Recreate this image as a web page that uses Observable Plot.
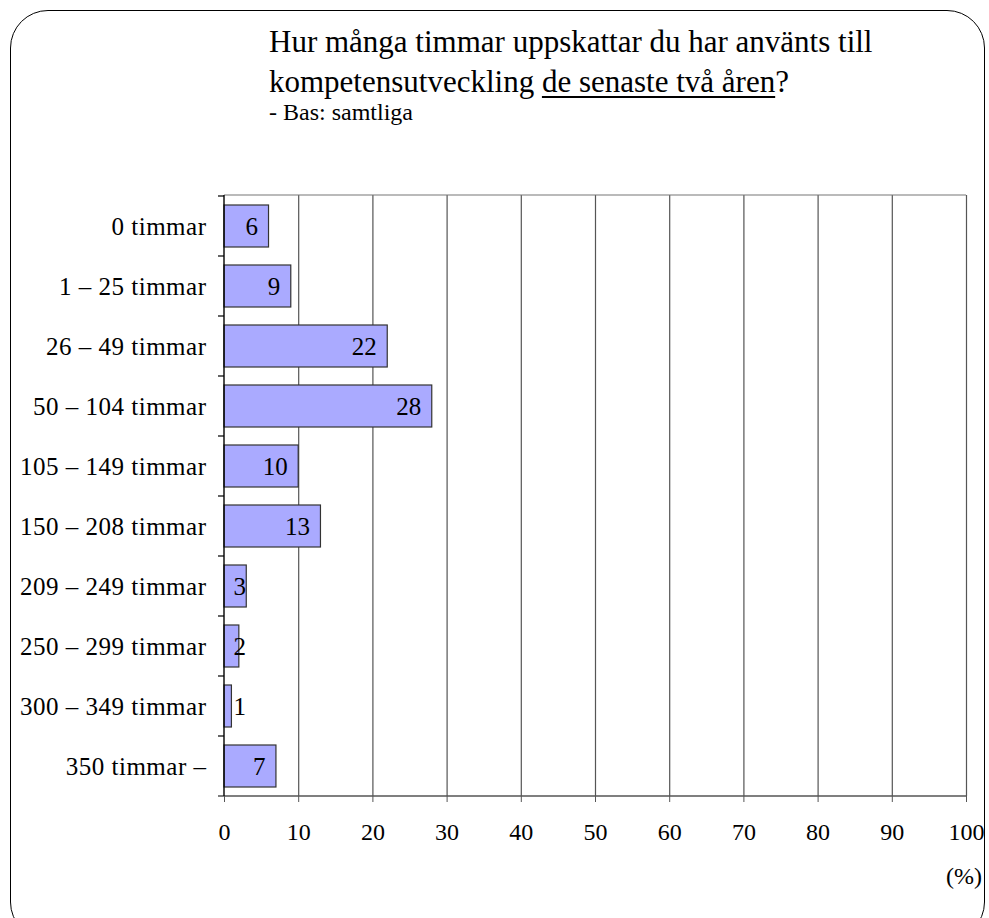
<!DOCTYPE html>
<html>
<head>
<meta charset="utf-8">
<script src="https://cdn.jsdelivr.net/npm/d3@7"></script>
<script src="https://cdn.jsdelivr.net/npm/@observablehq/plot@0.6"></script>
<style>
  html, body { margin: 0; padding: 0; background: #fff; }
  #wrap { position: relative; width: 989px; height: 918px; overflow: hidden; font-family: "Liberation Serif", "Times New Roman", serif; color: #000; }
  #border { position: absolute; left: 10px; top: 10px; width: 975px; height: 930px; border: 1.2px solid #000; border-radius: 38px; box-sizing: border-box; }
  #title { position: absolute; left: 269px; top: 22px; font-size: 31px; line-height: 40px; white-space: nowrap; }
  #title u { text-decoration-thickness: 1.5px; text-underline-offset: 4px; }
  #subtitle { position: absolute; left: 269px; top: 98px; font-size: 24px; line-height: 28px; white-space: nowrap; }
  #unit { position: absolute; left: 946px; top: 863px; font-size: 24px; }
  #chart { position: absolute; left: 0; top: 150px; }
  #chart g[aria-label="y-axis tick label"] text { letter-spacing: 0.5px; }
</style>
</head>
<body>
<div id="wrap">
  <div id="border"></div>
  <div id="title">Hur många timmar uppskattar du har använts till<br>kompetensutveckling <u>de senaste två åren</u>?</div>
  <div id="subtitle">- Bas: samtliga</div>
  <div id="chart"></div>
  <div id="unit">(%)</div>
</div>
<script>
const categories = [
  "0 timmar",
  "1 – 25 timmar",
  "26 – 49 timmar",
  "50 – 104 timmar",
  "105 – 149 timmar",
  "150 – 208 timmar",
  "209 – 249 timmar",
  "250 – 299 timmar",
  "300 – 349 timmar",
  "350 timmar –"
];
const values = [6, 9, 22, 28, 10, 13, 3, 2, 1, 7];
const xTicks = [0, 10, 20, 30, 40, 50, 60, 70, 80, 90, 100];

const data = categories.map((c, i) => ({cat: c, value: values[i]}));
const big = data.filter(d => d.value >= 5);
const small = data.filter(d => d.value < 5);

function frameMarks(index, scales, vals, dims) {
  const {x, y} = scales;
  const g = d3.create("svg:g");
  const top = dims.marginTop;
  const bottom = dims.height - dims.marginBottom;
  const x0 = x(0), x1 = x(100);
  const dom = y.domain();
  const step = (typeof y.step === "function") ? y.step() : (bottom - top) / dom.length;
  const bw = (typeof y.bandwidth === "function") ? y.bandwidth() : step * 0.7;
  const bounds = dom.map(d => y(d) - (step - bw) / 2);
  g.append("line").attr("x1", x0).attr("x2", x1).attr("y1", top).attr("y2", top)
    .attr("stroke", "#777").attr("stroke-width", 1.2);
  for (const b of bounds) {
    g.append("line").attr("x1", x0 - 6).attr("x2", x0).attr("y1", b).attr("y2", b)
      .attr("stroke", "#000").attr("stroke-width", 1.2);
  }
  g.append("line").attr("x1", x0 - 6).attr("x2", x1).attr("y1", bottom).attr("y2", bottom)
    .attr("stroke", "#555").attr("stroke-width", 1.6);
  g.append("line").attr("x1", x0).attr("x2", x0).attr("y1", top).attr("y2", bottom)
    .attr("stroke", "#000").attr("stroke-width", 1.4);
  return g.node();
}

const chart = Plot.plot({
  width: 989,
  height: 720,
  marginLeft: 224,
  marginRight: 23,
  marginTop: 45,
  marginBottom: 74,
  style: {fontFamily: "'Liberation Serif', 'Times New Roman', serif", fontSize: "24px", color: "#000", background: "transparent"},
  x: {domain: [0, 100]},
  y: {domain: categories, paddingInner: 0.3, paddingOuter: 0.15},
  marks: [
    Plot.gridX(xTicks.slice(1), {stroke: "#555", strokeOpacity: 1, strokeWidth: 1.2}),
    Plot.barX(data, {x: "value", y: "cat", fill: "#aaaaff", stroke: "#333", strokeWidth: 1.2}),
    Plot.text(big, {x: "value", y: "cat", text: d => String(d.value), textAnchor: "end", dx: -11, fontSize: 25}),
    Plot.text(small, {x: 0, y: "cat", text: d => String(d.value), textAnchor: "start", dx: 9, fontSize: 25}),
    Plot.axisX({ticks: xTicks, tickSize: 6, tickPadding: 20, stroke: "#555", label: null, fontSize: 24}),
    Plot.axisY({tickSize: 0, tickPadding: 18, label: null, fontSize: 25}),
    frameMarks
  ]
});
document.getElementById("chart").appendChild(chart);
</script>
</body>
</html>
